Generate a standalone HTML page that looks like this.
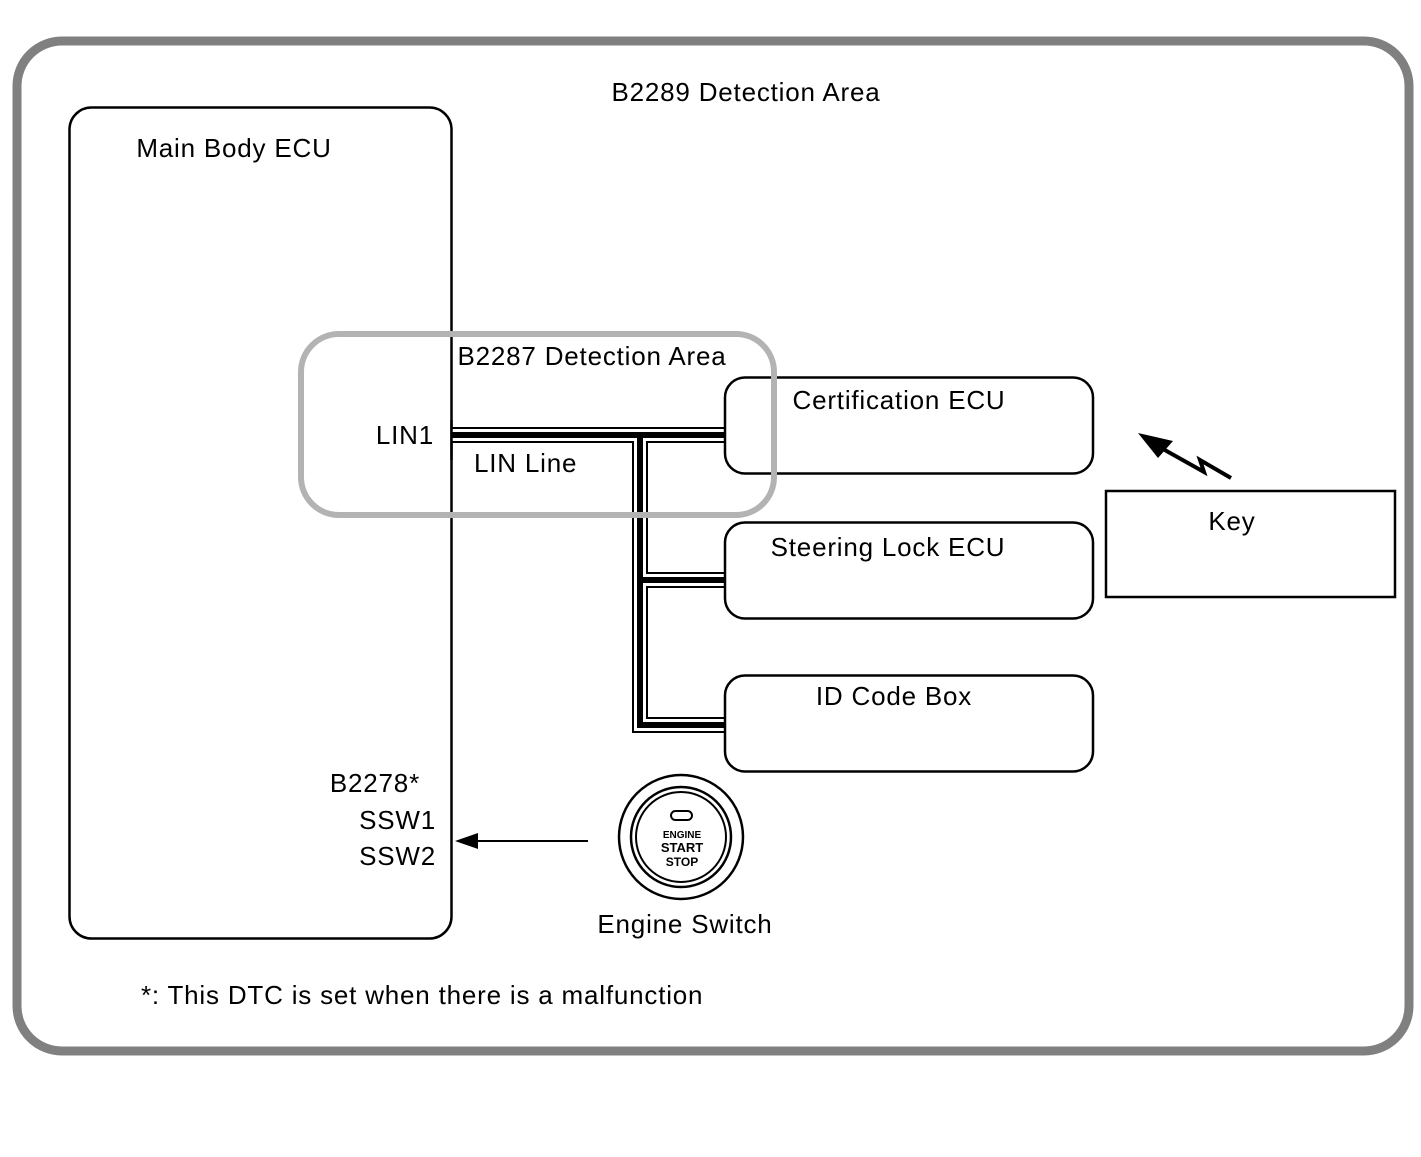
<!DOCTYPE html>
<html><head><meta charset="utf-8"><style>
html,body{margin:0;padding:0;background:#fff;}
svg{display:block;font-family:"Liberation Sans",Arial,sans-serif;}
.t{letter-spacing:0.8px;}
</style></head><body>
<svg width="1421" height="1157" viewBox="0 0 1421 1157" xmlns="http://www.w3.org/2000/svg">
<rect x="17" y="41" width="1392" height="1010" rx="45" fill="none" stroke="#808080" stroke-width="9"/>
<text class="t" x="746" y="101" font-size="26" text-anchor="middle">B2289 Detection Area</text>
<rect x="69.5" y="107.5" width="382" height="831" rx="22" fill="none" stroke="#000" stroke-width="2.5"/>
<text class="t" x="234" y="157" font-size="26" text-anchor="middle">Main Body ECU</text>
<g fill="none" stroke-linejoin="miter">
<path d="M452,435 H725 M640,435 V725 H725 M640,580 H725" stroke="#000" stroke-width="16"/>
<path d="M452,435 H725 M640,435 V725 H725 M640,580 H725" stroke="#fff" stroke-width="12"/>
<path d="M452,435 H725 M640,435 V725 H725 M640,580 H725" stroke="#000" stroke-width="6"/>
</g>
<line x1="451.5" y1="420" x2="451.5" y2="460" stroke="#000" stroke-width="2.5"/>
<rect x="725" y="377.5" width="368" height="96" rx="20" fill="none" stroke="#000" stroke-width="2.5"/>
<rect x="725" y="522.5" width="368" height="96" rx="20" fill="none" stroke="#000" stroke-width="2.5"/>
<rect x="725" y="675.5" width="368" height="96" rx="20" fill="none" stroke="#000" stroke-width="2.5"/>
<text class="t" x="899" y="409" font-size="26" text-anchor="middle">Certification ECU</text>
<text class="t" x="888" y="556" font-size="26" text-anchor="middle">Steering Lock ECU</text>
<text class="t" x="894" y="705" font-size="26" text-anchor="middle">ID Code Box</text>
<rect x="301" y="334" width="473" height="181" rx="38" fill="none" stroke="#b3b3b3" stroke-width="6"/>
<text class="t" x="592" y="365" font-size="26" text-anchor="middle">B2287 Detection Area</text>
<text class="t" x="434" y="444" font-size="26" text-anchor="end">LIN1</text>
<text class="t" x="474" y="472" font-size="26">LIN Line</text>
<rect x="1106" y="491" width="289" height="106" fill="none" stroke="#000" stroke-width="2.5"/>
<text class="t" x="1232" y="530" font-size="26" text-anchor="middle">Key</text>
<polyline points="1231,478 1200,460 1204,472 1163,449" fill="none" stroke="#000" stroke-width="4"/>
<polygon points="1138,433 1173,441 1158,458" fill="#000"/>
<text class="t" x="420" y="792" font-size="26" text-anchor="end">B2278*</text>
<text class="t" x="436" y="829" font-size="26" text-anchor="end">SSW1</text>
<text class="t" x="436" y="865" font-size="26" text-anchor="end">SSW2</text>
<line x1="588" y1="841" x2="470" y2="841" stroke="#000" stroke-width="2"/>
<polygon points="455,841 478,833 478,849" fill="#000"/>
<circle cx="681" cy="837" r="62" fill="none" stroke="#000" stroke-width="2.5"/>
<circle cx="681" cy="837" r="50" fill="none" stroke="#000" stroke-width="2.5"/>
<circle cx="681" cy="837" r="45" fill="none" stroke="#000" stroke-width="2"/>
<rect x="671" y="811" width="21" height="9" rx="4.5" fill="none" stroke="#000" stroke-width="2"/>
<text x="682" y="838" font-size="10" font-weight="bold" text-anchor="middle">ENGINE</text>
<text x="682" y="852" font-size="13" font-weight="bold" text-anchor="middle">START</text>
<text x="682" y="866" font-size="12" font-weight="bold" text-anchor="middle">STOP</text>
<text class="t" x="685" y="933" font-size="26" text-anchor="middle">Engine Switch</text>
<text class="t" x="141" y="1004" font-size="26">*: This DTC is set when there is a malfunction</text>
</svg>
</body></html>
